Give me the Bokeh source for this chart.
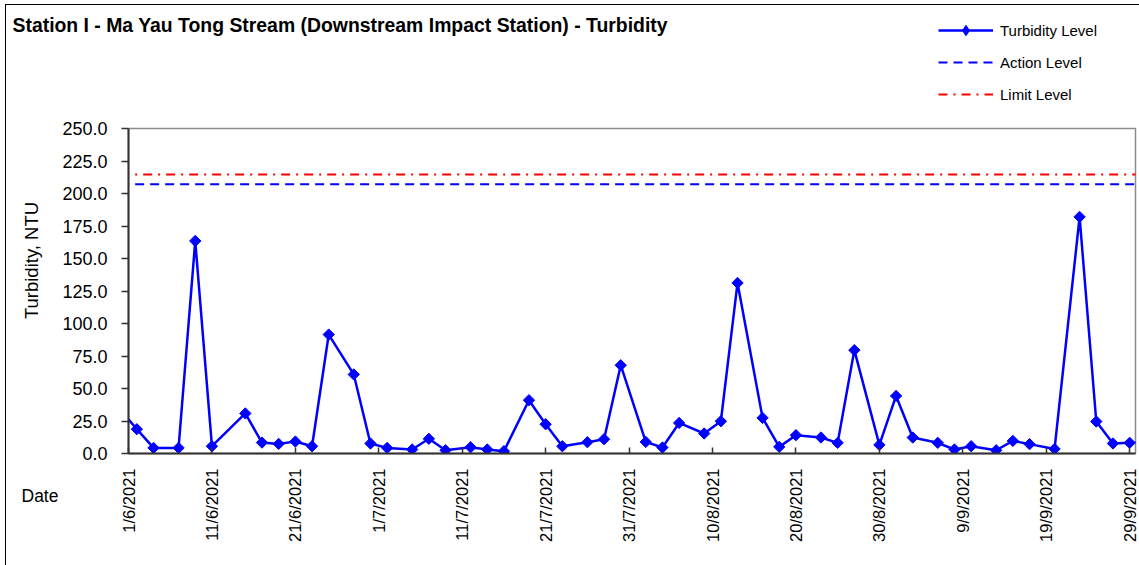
import numpy as np
import pandas as pd
from bokeh.plotting import figure
from bokeh.layouts import column, row
from bokeh.models import Range1d, FixedTicker, Label, Legend, LegendItem, NumeralTickFormatter
from bokeh.embed import file_html
from bokeh.resources import INLINE

# ---------------- data ----------------
dates = ["2021-05-31", "2021-06-02", "2021-06-04", "2021-06-07", "2021-06-09", "2021-06-11",
         "2021-06-15", "2021-06-17", "2021-06-19", "2021-06-21", "2021-06-23", "2021-06-25",
         "2021-06-28", "2021-06-30", "2021-07-02", "2021-07-05", "2021-07-07", "2021-07-09",
         "2021-07-12", "2021-07-14", "2021-07-16", "2021-07-19", "2021-07-21", "2021-07-23",
         "2021-07-26", "2021-07-28", "2021-07-30", "2021-08-02", "2021-08-04", "2021-08-06",
         "2021-08-09", "2021-08-11", "2021-08-13", "2021-08-16", "2021-08-18", "2021-08-20",
         "2021-08-23", "2021-08-25", "2021-08-27", "2021-08-30", "2021-09-01", "2021-09-03",
         "2021-09-06", "2021-09-08", "2021-09-10", "2021-09-13", "2021-09-15", "2021-09-17",
         "2021-09-20", "2021-09-23", "2021-09-25", "2021-09-27", "2021-09-29", "2021-10-02"]
turbidity = [33.8, 18.7, 4.3, 4.3, 163.5, 5.6,
             30.8, 8.4, 7.4, 9.2, 5.6, 91.5,
             60.8, 7.7, 4.3, 3.1, 11.3, 2.5,
             4.8, 3.1, 1.8, 41.0, 22.5, 5.6,
             8.7, 11.0, 67.9, 8.9, 4.6, 23.5,
             15.4, 24.8, 131.2, 27.4, 5.1, 14.1,
             12.3, 8.2, 79.5, 6.6, 44.3, 12.3,
             8.2, 3.1, 5.6, 2.5, 9.7, 7.2,
             3.5, 182.0, 24.6, 7.7, 8.2, 8.3]
action_level = 207.2
limit_level = 214.6

tick_dates = ["2021-06-01", "2021-06-11", "2021-06-21", "2021-07-01", "2021-07-11", "2021-07-21",
              "2021-07-31", "2021-08-10", "2021-08-20", "2021-08-30", "2021-09-09", "2021-09-19",
              "2021-09-29"]
tick_labels = ["1/6/2021", "11/6/2021", "21/6/2021", "1/7/2021", "11/7/2021", "21/7/2021",
               "31/7/2021", "10/8/2021", "20/8/2021", "30/8/2021", "9/9/2021", "19/9/2021",
               "29/9/2021"]
y_ticks = [0, 25, 50, 75, 100, 125, 150, 175, 200, 225, 250]

title_text = "Station I - Ma Yau Tong Stream (Downstream Impact Station) - Turbidity"
y_title = "Turbidity, NTU"
x_title = "Date"
series_names = ["Turbidity Level", "Action Level", "Limit Level"]

FONT = "Liberation Sans"
BLUE = "#0000FF"
RED = "#FF0000"
NAN = [float("nan")]

# ---------------- header (title + legend) ----------------
header = figure(width=1133, height=113, x_range=Range1d(0, 1), y_range=Range1d(0, 1),
                x_axis_location=None, y_axis_location=None, output_backend="svg",
                toolbar_location=None, min_border=0, outline_line_color=None)
header.grid.visible = False
h_line = header.line(NAN, NAN, line_color=BLUE, line_width=2.5)
h_mark = header.scatter(NAN, NAN, marker="diamond", size=10,
                        fill_color=BLUE, line_color=BLUE)
h_act = header.line(NAN, NAN, line_color=BLUE, line_width=2, line_dash="9 6")
h_lim = header.line(NAN, NAN, line_color=RED, line_width=2, line_dash="9 6 2 6")
legend = Legend(items=[LegendItem(label=series_names[0], renderers=[h_line, h_mark]),
                       LegendItem(label=series_names[1], renderers=[h_act]),
                       LegendItem(label=series_names[2], renderers=[h_lim])],
                location=(932, 11), orientation="vertical")
legend.background_fill_alpha = 0
legend.border_line_color = None
legend.padding = 0
legend.margin = 0
legend.spacing = 6
legend.glyph_width = 55
legend.glyph_height = 26
legend.label_height = 20
legend.label_standoff = 7
legend.label_text_font = FONT
legend.label_text_font_size = "15px"
legend.label_text_color = "#000000"
header.add_layout(legend, "center")
header.add_layout(Label(x=6, y=94, x_units="screen", y_units="screen", text=title_text,
                        text_font=FONT, text_font_size="19.4px", text_font_style="bold",
                        text_baseline="middle", text_align="left", text_color="#000000"))

# ---------------- left strip (axis titles) ----------------
strip = figure(width=52, height=447, x_range=Range1d(0, 1), y_range=Range1d(0, 1),
               x_axis_location=None, y_axis_location=None, output_backend="svg",
               toolbar_location=None, min_border=0, outline_line_color=None)
strip.grid.visible = False
strip.add_layout(Label(x=25, y=305, x_units="screen", y_units="screen", text=y_title,
                       angle=np.pi / 2, text_font=FONT, text_font_size="18.5px",
                       text_baseline="middle", text_align="center", text_color="#000000"))
strip.add_layout(Label(x=15, y=70, x_units="screen", y_units="screen", text=x_title,
                       text_font=FONT, text_font_size="17.5px",
                       text_baseline="middle", text_align="left", text_color="#000000"))

# ---------------- main chart ----------------
x = pd.to_datetime(dates)
x_start = pd.Timestamp("2021-06-01")
x_end = x_start + pd.Timedelta(days=120.7)

p = figure(width=1081, height=447, x_axis_type="datetime",
           x_range=Range1d(x_start, x_end), y_range=Range1d(0, 250),
           output_backend="svg", toolbar_location=None,
           min_border_left=70, min_border_right=4, min_border_top=10, min_border_bottom=112,
           background_fill_color="white", border_fill_color="white")
p.xgrid.visible = False
p.ygrid.visible = False
p.outline_line_color = "#8c8c8c"
p.outline_line_width = 1.5

tick_ms = [pd.Timestamp(d).value // 10**6 for d in tick_dates]
p.xaxis.ticker = FixedTicker(ticks=tick_ms)
p.xaxis.major_label_overrides = {t: l for t, l in zip(tick_ms, tick_labels)}
p.xaxis.major_label_orientation = np.pi / 2
p.xaxis.major_tick_in = 6
p.xaxis.major_tick_out = 0
p.xaxis.minor_tick_line_color = None
p.xaxis.major_label_standoff = 15
p.xaxis.major_label_text_font = FONT
p.xaxis.major_label_text_font_size = "16.5px"
p.xaxis.major_label_text_color = "#000000"

p.yaxis.ticker = FixedTicker(ticks=y_ticks)
p.yaxis.formatter = NumeralTickFormatter(format="0.0")
p.yaxis.major_tick_in = 0
p.yaxis.major_tick_out = 7
p.yaxis.minor_tick_line_color = None
p.yaxis.major_label_standoff = 14
p.yaxis.major_label_text_font = FONT
p.yaxis.major_label_text_font_size = "18px"
p.yaxis.major_label_text_color = "#000000"

for ax in (p.xaxis, p.yaxis):
    ax.axis_line_color = "#333333"
    ax.axis_line_width = 2
    ax.major_tick_line_color = "#333333"
    ax.major_tick_line_width = 1.5

p.line(x, turbidity, line_color=BLUE, line_width=2.5)
p.scatter(x, turbidity, marker="square", angle=np.pi / 4, size=8,
          fill_color=BLUE, line_color=BLUE)
lx = [x[0], x[-1]]
p.line(lx, [action_level, action_level], line_color=BLUE, line_width=2, line_dash="9 6")
p.line(lx, [limit_level, limit_level], line_color=RED, line_width=2, line_dash="9 6 2 6")

layout = column(header, row(column(strip), p))
layout.styles = {"margin-left": "5px", "margin-top": "4px",
                 "border-left": "1px solid #000000", "border-top": "1px solid #000000"}

open("out.html", "w").write(file_html(layout, INLINE))
